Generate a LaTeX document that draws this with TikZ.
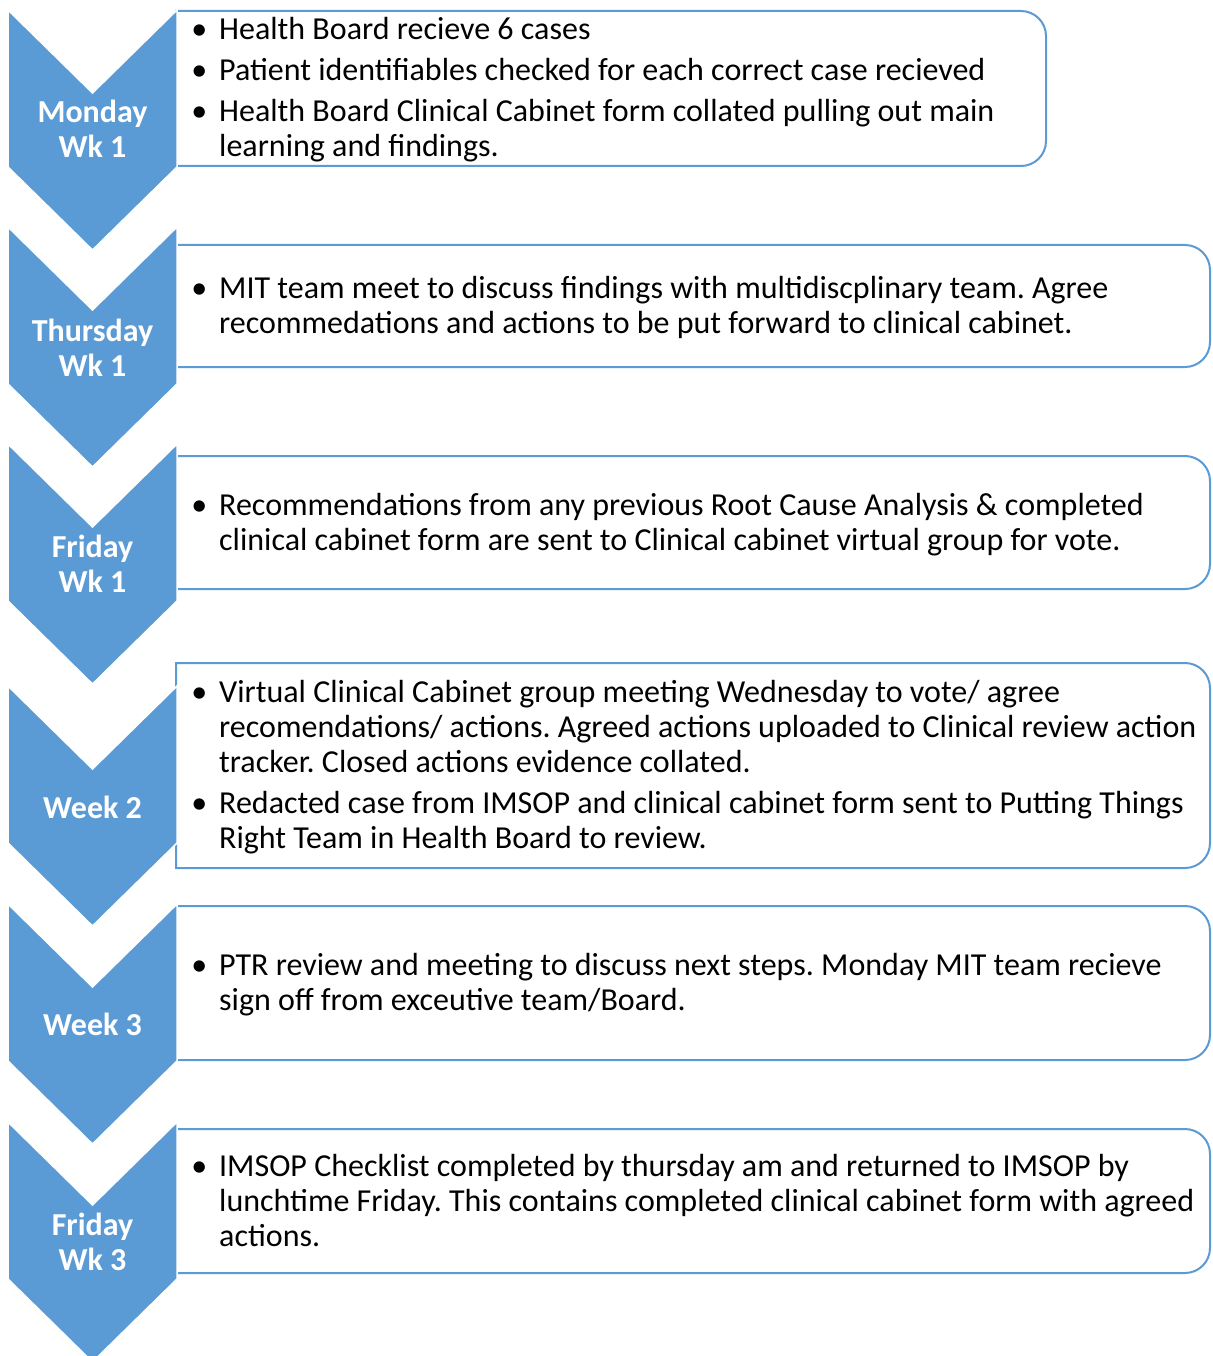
\documentclass[tikz,border=0pt]{standalone}
\usepackage{fontspec}
\setmainfont{Carlito}
\definecolor{chev}{HTML}{5B9BD5}

\tikzset{
  chevshape/.style={fill=chev, draw=white, line width=1.5pt, line join=miter},
  boxshape/.style={draw=chev, line width=2pt, fill=white},
  stepname/.style={text=white, font=\bfseries\fontsize{32}{35}\selectfont\frenchspacing,
    align=center, inner sep=0pt},
  stepbody/.style={text=black, font=\fontsize{32}{35}\selectfont\frenchspacing,
    align=left, anchor=west, inner sep=0pt},
}

% bullet hanging to the left of the text margin
\newcommand{\bul}{\strut\llap{•\hspace{12pt}}}
\newcommand{\lnx}{\strut}

% downward chevron whose top edge is at y=#1
\newcommand{\drawchevron}[1]{%
  \draw[chevshape] (8,#1) -- (92.5,#1+83) -- (177,#1) -- (177,#1+157)
    -- (92.5,#1+240) -- (8,#1+157) -- cycle;}

% box with square left corners and rounded right corners
\newcommand{\drawbox}[3]{% top, bottom, right
  \draw[boxshape] (176,#2) -- (176,#1) -- (#3-25,#1)
    arc[start angle=90, end angle=0, radius=25pt] -- (#3,#2-25)
    arc[start angle=0, end angle=-90, radius=25pt] -- cycle;}

\begin{document}
\begin{tikzpicture}[x=1pt, y=-1pt]
  \useasboundingbox (0,0) rectangle (1212,1356);

  % text boxes
  \drawbox{11}{166}{1046}
  \drawbox{245}{367}{1210}
  \drawbox{456}{589}{1210}
  \drawbox{663}{868}{1210}
  \drawbox{906}{1060}{1210}
  \drawbox{1129}{1273}{1210}

  % chevrons
  \drawchevron{10}
  \drawchevron{227}
  \drawchevron{444}
  \drawchevron{686}
  \drawchevron{904}
  \drawchevron{1122}

  % step names
  \node[stepname] (s1) at (92.5,133.5) {\lnx Monday\\\lnx Wk 1};
  \node[stepname] (s2) at (92.5,351.5) {\lnx Thursday\\\lnx Wk 1};
  \node[stepname] (s3) at (92.5,568) {\lnx Friday\\\lnx Wk 1};
  \node[stepname] (s4) at (92.5,811) {\lnx Week 2};
  \node[stepname] (s5) at (92.5,1028) {\lnx Week 3};
  \node[stepname] (s6) at (92.5,1246) {\lnx Friday\\\lnx Wk 3};

  % step descriptions
  \node[stepbody] (b1) at (219,91) {%
    \bul Health Board recieve 6 cases\\[6pt]
    \bul Patient identifiables checked for each correct case recieved\\[6pt]
    \bul Health Board Clinical Cabinet form collated pulling out main\\
    \lnx learning and findings.};
  \node[stepbody] (b2) at (219,309) {%
    \bul MIT team meet to discuss findings with multidiscplinary team. Agree\\
    \lnx recommedations and actions to be put forward to clinical cabinet.};
  \node[stepbody] (b3) at (219,526) {%
    \bul Recommendations from any previous Root Cause Analysis \& completed\\
    \lnx clinical cabinet form are sent to Clinical cabinet virtual group for vote.};
  \node[stepbody] (b4) at (219,768.5) {%
    \bul Virtual Clinical Cabinet group meeting Wednesday to vote/ agree\\
    \lnx recomendations/ actions. Agreed actions uploaded to Clinical review action\\
    \lnx tracker. Closed actions evidence collated.\\[6pt]
    \bul Redacted case from IMSOP and clinical cabinet form sent to Putting Things\\
    \lnx Right Team in Health Board to review.};
  \node[stepbody] (b5) at (219,986) {%
    \bul PTR review and meeting to discuss next steps. Monday MIT team recieve\\
    \lnx sign off from exceutive team/Board.};
  \node[stepbody] (b6) at (219,1204) {%
    \bul IMSOP Checklist completed by thursday am and returned to IMSOP by\\
    \lnx lunchtime Friday. This contains completed clinical cabinet form with agreed\\
    \lnx actions.};
\end{tikzpicture}
\end{document}
